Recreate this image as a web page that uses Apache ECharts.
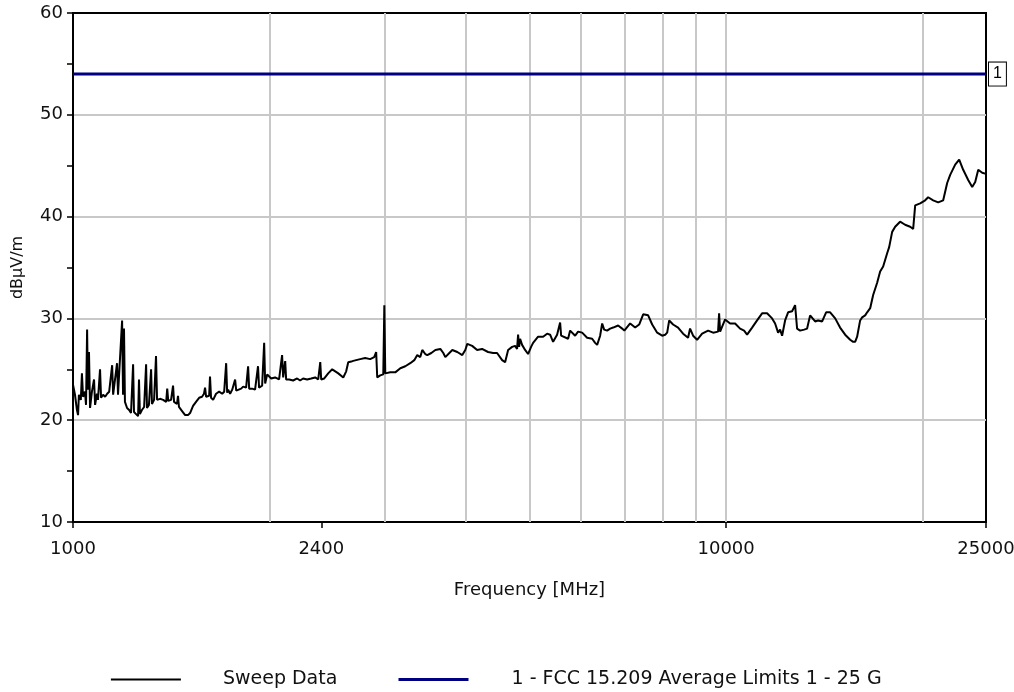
<!DOCTYPE html>
<html>
<head>
<meta charset="utf-8">
<script src="https://cdn.jsdelivr.net/npm/echarts@6/dist/echarts.min.js"></script>
<style>
  html, body { margin: 0; padding: 0; background: #fff; }
  #chart { width: 1014px; height: 692px; }
</style>
</head>
<body>
<div id="chart"></div>
<script>
// Sweep measurement: frequency (MHz) and field strength (dBµV/m)
const freqMHz = [
  1000,1007,1014,1018,1021,1028,1032,1036,1043,1047,
  1051,1054,1058,1062,1069,1077,1081,1088,1092,1100,
  1104,1112,1120,1128,1136,1148,1152,1160,1168,1172,
  1180,1189,1193,1197,1201,1210,1219,1227,1236,1240,
  1249,1258,1262,1266,1275,1285,1294,1298,1307,1317,
  1321,1331,1340,1345,1359,1374,1389,1394,1399,1413,
  1423,1428,1443,1448,1453,1469,1485,1500,1511,1527,
  1543,1560,1576,1587,1593,1599,1616,1621,1627,1639,
  1656,1674,1692,1704,1716,1722,1728,1740,1753,1771,
  1778,1790,1809,1822,1841,1854,1861,1880,1900,1920,
  1927,1948,1962,1969,1983,1997,2011,2039,2068,2090,
  2098,2113,2120,2143,2173,2204,2227,2251,2283,2316,
  2349,2374,2391,2399,2425,2459,2494,2521,2548,2593,
  2620,2639,2677,2714,2753,2801,2851,2892,2912,2923,
  2954,2986,2997,3007,3060,3115,3171,3227,3284,3331,
  3366,3402,3426,3462,3487,3537,3588,3651,3690,3716,
  3769,3809,3876,3945,3987,4015,4085,4157,4230,4320,
  4398,4460,4540,4588,4637,4703,4753,4786,4803,4820,
  4837,4871,4923,4975,5028,5064,5154,5246,5320,5377,
  5434,5511,5570,5590,5629,5729,5770,5873,5935,6020,
  6126,6236,6302,6347,6414,6460,6505,6574,6644,6715,
  6834,6932,6985,7130,7257,7360,7465,7597,7706,7843,
  7982,8067,8124,8182,8295,8442,8593,8745,8807,8902,
  9028,9189,9385,9552,9721,9756,9791,9860,9965,10142,
  10322,10506,10655,10768,10960,11154,11353,11554,11761,11886,
  12012,12097,12183,12312,12444,12620,12754,12844,12981,13166,
  13306,13447,13688,13833,14030,14228,14432,14690,14946,15215,
  15486,15650,15761,15872,16041,16155,16327,16443,16619,16794,
  17032,17213,17397,17644,17769,17958,18149,18468,18796,19134,
  19339,19476,19822,20175,20389,20753,21120,21498,21802,22034,
  22427,22744,23069,23478,23813,24067,24324,24669,25000
];
const sweepLevel = [
  23.5,22.5,21.0,20.5,22.5,22.0,24.6,22.3,22.8,21.5,
  28.9,23.0,26.7,21.2,22.8,24.0,21.5,22.6,22.0,25.0,
  22.2,22.5,22.3,22.6,22.8,25.4,22.5,22.6,25.6,22.5,
  22.4,29.8,22.5,29.0,21.8,21.2,21.0,20.7,25.5,20.8,
  20.6,20.4,24.0,20.6,21.0,21.3,25.5,21.2,21.5,25.0,
  21.6,22.0,26.3,22.0,22.1,22.0,21.8,23.1,21.9,22.0,
  23.4,21.8,21.6,22.4,21.3,20.9,20.5,20.5,20.7,21.4,
  21.8,22.2,22.3,22.6,23.2,22.3,22.4,24.3,22.2,22.0,
  22.6,22.8,22.6,22.8,25.6,22.7,23.0,22.6,23.0,24.0,
  22.9,23.0,23.1,23.3,23.2,25.3,23.1,23.1,23.0,25.3,
  23.2,23.4,27.6,23.6,24.5,24.6,24.1,24.2,24.0,26.4,
  24.2,25.8,24.0,24.0,23.9,24.1,23.9,24.1,24.0,24.1,
  24.2,24.0,25.7,24.0,24.1,24.6,25.0,24.8,24.6,24.2,
  24.8,25.7,25.8,25.9,26.0,26.1,26.0,26.2,26.7,24.2,
  24.4,24.5,31.3,24.6,24.7,24.7,25.1,25.3,25.6,25.9,
  26.4,26.2,26.9,26.5,26.4,26.6,26.9,27.0,26.6,26.2,
  26.6,26.9,26.7,26.4,26.9,27.5,27.3,26.9,27.0,26.7,
  26.6,26.6,25.9,25.7,26.9,27.2,27.3,27.0,28.4,27.2,
  28.0,27.4,26.9,26.5,27.2,27.6,28.2,28.2,28.5,28.4,
  27.7,28.4,29.6,28.3,28.2,28.0,28.8,28.3,28.7,28.6,
  28.1,28.0,27.6,27.4,28.3,29.5,28.9,28.8,29.0,29.1,
  29.3,29.0,28.8,29.5,29.1,29.4,30.4,30.3,29.4,28.6,
  28.3,28.4,28.6,29.8,29.4,29.1,28.5,28.1,29.0,28.3,
  27.9,28.5,28.8,28.6,28.7,30.5,28.7,28.7,29.9,29.5,
  29.5,29.0,28.8,28.4,29.1,29.8,30.5,30.5,30.0,29.5,
  28.6,28.9,28.3,29.8,30.6,30.7,31.3,29.0,28.8,28.9,
  29.0,30.3,29.7,29.8,29.7,30.6,30.6,30.0,29.1,28.4,
  27.9,27.7,27.7,28.2,29.8,30.1,30.3,30.6,31.0,32.3,
  33.5,34.6,35.1,36.4,37.0,38.5,39.0,39.5,39.2,39.0,
  38.8,41.1,41.3,41.6,41.9,41.6,41.4,41.6,43.3,44.1,
  45.1,45.6,44.6,43.6,42.9,43.4,44.6,44.3,44.2
];

// FCC 15.209 average limit across 1 - 25 GHz
const limitFreq = [1000, 25000];
const limitLevel = [54, 54];

// Axis ticks and grid
const xTickLabels = [1000, 2400, 10000, 25000];
const xGridFreqs = [2000, 3000, 4000, 5000, 6000, 7000, 8000, 9000, 10000, 20000];
const yMin = 10, yMax = 60, yStep = 10;

const sweepName = 'Sweep Data';
const limitName = '1 - FCC 15.209 Average Limits 1 - 25 G';

const FONT = '"DejaVu Sans", "Liberation Sans", sans-serif';
const TXT = '#111';

const chart = echarts.init(document.getElementById('chart'), null, { renderer: 'canvas' });

// legend entries show only the series line, no marker in its middle
const legendBase = {
  top: 668, padding: 0, itemWidth: 70, itemHeight: 22,
  selectedMode: false,
  itemStyle: { opacity: 0 }
};

chart.setOption({
  animation: false,
  backgroundColor: '#fff',
  textStyle: { fontFamily: FONT },
  grid: {
    left: 73, right: 28, top: 13, bottom: 170,
    outerBoundsMode: 'none', containLabel: false,
    show: true, borderColor: '#000', borderWidth: 2, backgroundColor: 'transparent'
  },
  legend: [
    Object.assign({}, legendBase, {
      left: 110, top: 670,
      data: [sweepName],
      lineStyle: { width: 1.8, opacity: 1 },
      textStyle: { fontFamily: FONT, fontSize: 19, color: TXT, padding: [0, 0, 0, 37] }
    }),
    Object.assign({}, legendBase, {
      left: 397, top: 670,
      data: [limitName],
      lineStyle: { width: 3, opacity: 1 },
      textStyle: { fontFamily: FONT, fontSize: 19, color: TXT, padding: [0, 0, 0, 38] }
    })
  ],
  xAxis: {
    type: 'log', logBase: 10, min: 1000, max: 25000,
    name: 'Frequency [MHz]', nameLocation: 'middle', nameGap: 59,
    nameTextStyle: { fontFamily: FONT, fontSize: 18, color: TXT },
    axisLine: { lineStyle: { color: '#000', width: 2 } },
    axisTick: { show: true, customValues: xTickLabels, length: 6, lineStyle: { color: '#000', width: 1.5 } },
    axisLabel: {
      customValues: xTickLabels, margin: 18, fontSize: 18, color: TXT, fontFamily: FONT,
      formatter: v => String(Math.round(v))
    },
    splitLine: { show: false },
    minorTick: { show: false },
    minorSplitLine: { show: false }
  },
  yAxis: {
    type: 'value', min: yMin, max: yMax, interval: yStep,
    name: 'dBµV/m', nameLocation: 'middle', nameGap: 47, nameRotate: 90,
    nameTextStyle: { fontFamily: FONT, fontSize: 16, color: TXT },
    axisLine: { show: true, lineStyle: { color: '#000', width: 2 } },
    axisTick: { show: true, length: 6, lineStyle: { color: '#000', width: 1.5 } },
    minorTick: { show: true, splitNumber: 2, length: 6, lineStyle: { color: '#000', width: 1.5 } },
    axisLabel: { margin: 10, fontSize: 18, color: TXT, fontFamily: FONT },
    splitLine: { show: true, showMinLine: false, showMaxLine: false, lineStyle: { color: '#c8c8c8', width: 2 } }
  },
  series: [
    {
      name: limitName,
      type: 'line',
      data: limitFreq.map((f, i) => [f, limitLevel[i]]),
      symbol: 'none',
      z: 2,
      lineStyle: { color: '#000080', width: 3 },
      itemStyle: { color: '#000080' },
      emphasis: { disabled: true },
      endLabel: {
        show: true, formatter: '1', distance: 3,
        color: '#000', fontSize: 16, fontFamily: '"Liberation Sans", Arial, sans-serif',
        backgroundColor: '#fff', borderColor: '#000', borderWidth: 1,
        padding: [4, 4, 3, 4]
      },
      markLine: {
        silent: true, z: 1,
        symbol: ['none', 'none'],
        label: { show: false },
        emphasis: { disabled: true },
        lineStyle: { color: '#c8c8c8', width: 2, type: 'solid' },
        data: xGridFreqs.map(f => ({ xAxis: f }))
      }
    },
    {
      name: sweepName,
      type: 'line',
      data: freqMHz.map((f, i) => [f, sweepLevel[i]]),
      symbol: 'none',
      z: 3,
      lineStyle: { color: '#000', width: 2 },
      itemStyle: { color: '#000' },
      emphasis: { disabled: true }
    }
  ]
});
</script>
</body>
</html>
